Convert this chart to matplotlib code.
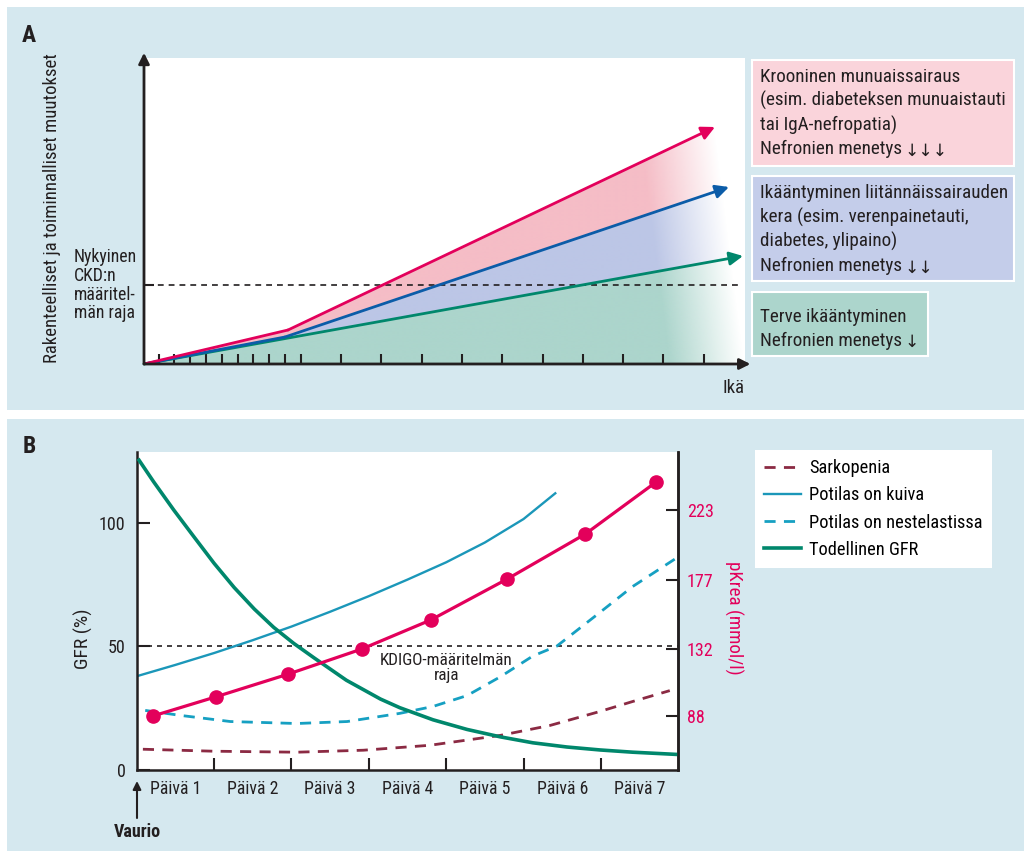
import numpy as np
import matplotlib.pyplot as plt
from matplotlib.patches import Rectangle, Polygon

# ---- panel A data (arbitrary units along age / change axes) ----
age_ticks = [15, 30, 46, 62, 78, 94, 109, 125, 141, 157,
             197, 237, 278, 318, 358, 399, 439, 479, 519, 560]
ckd_x = [0, 144, 571]
ckd_y = [0, 34, 237]
como_x = [0, 141, 585]
como_y = [0, 27, 177]
healthy_x = [0, 599]
healthy_y = [0, 108]
ckd_limit = 79

ckd_text = ['Krooninen munuaissairaus', '(esim. diabeteksen munuaistauti',
            'tai IgA-nefropatia)', 'Nefronien menetys ↓↓↓']
como_text = ['Ikääntyminen liitännäissairauden', 'kera (esim. verenpainetauti,',
             'diabetes, ylipaino)', 'Nefronien menetys ↓↓']
healthy_text = ['Terve ikääntyminen', 'Nefronien menetys ↓']
limit_text = ['Nykyinen', 'CKD:n', 'määritel-', 'män raja']

# ---- panel B data (x in days after injury) ----
day_labels = ['Päivä 1', 'Päivä 2', 'Päivä 3', 'Päivä 4', 'Päivä 5', 'Päivä 6', 'Päivä 7']

gfr_x = [0.03, 0.22, 0.48, 0.74, 1.00, 1.26, 1.52, 1.77, 2.03, 2.29, 2.71, 3.15, 3.40,
         3.83, 4.27, 4.70, 5.12, 5.56, 5.99, 6.41, 6.98]
gfr_y = [125.3, 116.5, 105.1, 94.3, 83.6, 73.8, 65.1, 57.7, 51.2, 45.4, 36.3, 28.7, 25.2,
         20.3, 16.4, 13.4, 11.0, 9.3, 8.1, 7.2, 6.3]

dry_x = [0.02, 0.5, 1.0, 1.5, 2.0, 2.5, 3.0, 3.5, 4.0, 4.5, 5.0, 5.41]
dry_y = [38.1, 42.5, 47.3, 52.5, 58.0, 64.0, 70.3, 77.0, 84.0, 92.0, 101.5, 111.9]

fluid_x = [0.11, 0.56, 1.21, 2.07, 2.72, 3.40, 3.83, 4.27, 4.70, 5.12, 5.43, 5.99, 6.41, 6.98]
fluid_y = [24.1, 22.1, 19.6, 18.8, 19.6, 22.9, 25.7, 30.1, 37.7, 46.1, 50.1, 63.8, 74.2, 85.8]

sarc_x = [0.08, 0.99, 2.07, 2.93, 3.79, 4.70, 5.34, 5.99, 6.41, 6.89]
sarc_y = [8.4, 7.6, 7.2, 8.0, 10.0, 14.0, 18.0, 23.7, 27.7, 32.1]

krea_x = [0.21, 1.02, 1.95, 2.91, 3.80, 4.79, 5.80, 6.71]
krea_y = [88.0, 100.5, 115.3, 131.9, 150.9, 177.8, 207.3, 241.2]
krea_ticks = [88, 132, 177, 223]

legend_labels = ['Sarkopenia', 'Potilas on kuiva', 'Potilas on nestelastissa', 'Todellinen GFR']

# ---- styling ----
ink = '#231f20'
bg = '#d5e8ef'
pink = '#e3005b'
blue = '#0b5ca8'
green = '#00876c'
teal = '#1b97b9'
teal2 = '#16a0c2'
maroon = '#8b2a43'

plt.rcParams['font.family'] = ['Roboto Condensed', 'DejaVu Sans']

W, H = 1024, 851


def fx(px):
    return px / W


def fy(py):
    return 1 - py / H


fig = plt.figure(figsize=(10.24, 8.51), dpi=100, facecolor='white')
fig.add_artist(Rectangle((fx(7), fy(410)), fx(1024) - fx(7), fy(7) - fy(410),
                         transform=fig.transFigure, fc=bg, ec='none', zorder=-5))
fig.add_artist(Rectangle((fx(7), fy(851)), fx(1024) - fx(7), fy(419) - fy(851),
                         transform=fig.transFigure, fc=bg, ec='none', zorder=-5))

# =================== panel A ===================
axA = fig.add_axes([fx(144), fy(364), fx(745) - fx(144), fy(58) - fy(364)])
axA.set_facecolor('white')
for s in axA.spines.values():
    s.set_visible(False)

# gradient fills that fade out towards the right
xmax, ymax = 601, 306
gx, gy = np.meshgrid(np.arange(xmax + 1), np.arange(ymax + 1))
edge = xmax - 30 * gy / 237
fade = np.clip((edge - gx) / 75, 0, 1)

regions = [
    (list(zip(ckd_x, ckd_y)) + list(zip(como_x, como_y))[::-1], '#f5bdc6'),
    (list(zip(como_x, como_y)) + list(zip(healthy_x, healthy_y))[::-1], '#bcc6e6'),
    (list(zip(healthy_x, healthy_y)) + [(xmax, 0)], '#acd5cc'),
]
for verts, col in regions:
    rgba = np.zeros(gx.shape + (4,))
    rgba[..., :3] = plt.matplotlib.colors.to_rgb(col)
    rgba[..., 3] = fade
    poly = Polygon(verts, closed=True, fc='none', ec='none')
    axA.add_patch(poly)
    im = axA.imshow(rgba, extent=(0, xmax, 0, ymax), origin='lower', aspect='auto',
                    interpolation='bilinear', zorder=1)
    im.set_clip_path(poly)

axA.plot([3, 598], [ckd_limit, ckd_limit], color=ink, lw=1.2, ls=(0, (3.5, 3)), zorder=2)

for xs, ys, col in [(healthy_x, healthy_y, green), (como_x, como_y, blue), (ckd_x, ckd_y, pink)]:
    if len(xs) > 2:
        axA.plot(xs[:-1], ys[:-1], color=col, lw=2, solid_capstyle='round', zorder=3)
    axA.annotate('', xy=(xs[-1], ys[-1]), xytext=(xs[-2], ys[-2]),
                 arrowprops=dict(arrowstyle='-|>', color=col, lw=2, mutation_scale=20,
                                 shrinkA=0, shrinkB=0), zorder=3, annotation_clip=False)

axA.set_xlim(0, xmax)
axA.set_ylim(0, ymax)
axA.set_xticks(age_ticks)
axA.set_xticklabels([])
axA.set_yticks([ckd_limit])
axA.set_yticklabels([])
axA.tick_params(direction='in', length=7, width=1.5, color=ink)

axA.annotate('', xy=(0, 1.017), xytext=(0, 0), xycoords='axes fraction',
             arrowprops=dict(arrowstyle='-|>', color=ink, lw=2, mutation_scale=16,
                             shrinkA=0, shrinkB=0), annotation_clip=False, zorder=5)
axA.annotate('', xy=(1.009, 0), xytext=(0, 0), xycoords='axes fraction',
             arrowprops=dict(arrowstyle='-|>', color=ink, lw=2, mutation_scale=16,
                             shrinkA=0, shrinkB=0), annotation_clip=False, zorder=5)

fig.text(fx(29), fy(35), 'A', fontsize=17, fontweight='bold', ha='center', va='center', color=ink)
fig.text(fx(52), fy(208), 'Rakenteelliset ja toiminnalliset muutokset', rotation=90,
         ha='center', va='center', fontsize=13.5, color=ink)
for txt, base in zip(limit_text, [262, 281, 299.5, 318]):
    fig.text(fx(74), fy(base), txt, fontsize=12.8, va='baseline', ha='left', color=ink)
fig.text(fx(734), fy(393), 'Ikä', fontsize=13.5, ha='center', va='baseline', color=ink)

boxes = [
    ((752, 60, 1014, 166), '#fad4db', ckd_text, [81.7, 106, 130.5, 154.5]),
    ((752, 176, 1014, 281), '#c4cdea', como_text, [198.3, 222.5, 246.7, 271]),
    ((752, 292, 928, 356), '#acd5cc', healthy_text, [321.7, 345.5]),
]
for (x0, y0, x1, y1), col, lines, bases in boxes:
    fig.add_artist(Rectangle((fx(x0), fy(y1)), fx(x1) - fx(x0), fy(y0) - fy(y1),
                             transform=fig.transFigure, fc=col, ec='white', lw=1.5, zorder=-1))
    for txt, base in zip(lines, bases):
        # arrows come from DejaVu Sans, set a little smaller so they stay compact
        head = txt.rstrip('↓ ')
        arrows = txt[len(head):].strip()
        fig.text(fx(760), fy(base), head, fontsize=13.8, va='baseline', ha='left', color=ink)
        if arrows:
            fig.text(fx(904), fy(base + 1.5), arrows, fontsize=12.3, va='baseline',
                     ha='left', color=ink, family=['DejaVu Sans'])

# =================== panel B ===================
axB = fig.add_axes([fx(136.7), fy(770), fx(678.3) - fx(136.7), fy(452) - fy(770)])
axB.set_facecolor('white')
axB.spines['top'].set_visible(False)
for side in ['left', 'bottom', 'right']:
    axB.spines[side].set_linewidth(1.8)
    axB.spines[side].set_color(ink)

axB.axhline(50, color=ink, lw=1.2, ls=(0, (3, 3)), zorder=1)
l_sarc, = axB.plot(sarc_x, sarc_y, color=maroon, lw=2, ls=(0, (4, 3)), zorder=2)
l_fluid, = axB.plot(fluid_x, fluid_y, color=teal2, lw=2, ls=(0, (4, 3)), zorder=2)
l_dry, = axB.plot(dry_x, dry_y, color=teal, lw=1.7, zorder=2)
l_gfr, = axB.plot(gfr_x, gfr_y, color=green, lw=2.6, zorder=3, solid_joinstyle='round')

axB.text(4.0, 47.2, 'KDIGO-määritelmän\nraja', ha='center', va='top', fontsize=12.3,
         linespacing=1.0, color=ink)

axB.set_xlim(0, 7)
axB.set_ylim(0, 128.6)
axB.set_xticks(range(1, 7))
axB.set_xticklabels([])
axB.set_xticks(np.arange(0.5, 7), labels=day_labels, minor=True)
axB.tick_params(axis='x', which='major', direction='in', length=9, width=1.5, color=ink)
axB.tick_params(axis='x', which='minor', length=0, pad=7, labelsize=12.8, labelcolor=ink)
axB.set_yticks([0, 50, 100])
axB.tick_params(axis='y', direction='in', length=9, width=1.5, color=ink, pad=8,
                labelsize=13, labelcolor=ink)

axR = axB.twinx()
for side in ['left', 'bottom', 'top']:
    axR.spines[side].set_visible(False)
axR.spines['right'].set_linewidth(1.8)
axR.spines['right'].set_color(ink)
axR.plot(krea_x, krea_y, color=pink, lw=2.3, marker='o', markersize=9.5, zorder=4)
axR.set_ylim(52.6, 261)
axR.set_yticks(krea_ticks)
axR.tick_params(axis='y', direction='in', length=9, width=1.5, color=ink, pad=6,
                labelsize=13, labelcolor=pink)

fig.legend([l_sarc, l_dry, l_fluid, l_gfr], legend_labels, loc='upper left',
           bbox_to_anchor=(fx(755), fy(450)), frameon=True, fancybox=False,
           edgecolor='none', facecolor='white', framealpha=1, fontsize=13.2,
           handlelength=2.0, handletextpad=0.45, labelspacing=0.5, borderpad=0.5,
           borderaxespad=0)

fig.text(fx(29.5), fy(447), 'B', fontsize=17, fontweight='bold', ha='center', va='center', color=ink)
fig.text(fx(83), fy(639), 'GFR (%)', rotation=90, ha='center', va='center', fontsize=14, color=ink)
fig.text(fx(734), fy(618), 'pKrea (mmol/l)', rotation=270, ha='center', va='center',
         fontsize=13.7, color=pink)
fig.text(fx(137), fy(837), 'Vaurio', fontsize=13, fontweight='bold', ha='center',
         va='baseline', color=ink)
axB.annotate('', xy=(fx(137), fy(781)), xytext=(fx(137), fy(818)), xycoords='figure fraction',
             arrowprops=dict(arrowstyle='-|>', color=ink, lw=1.5, mutation_scale=12,
                             shrinkA=0, shrinkB=0), annotation_clip=False)

fig.savefig('out.png', dpi=100, facecolor='white')
